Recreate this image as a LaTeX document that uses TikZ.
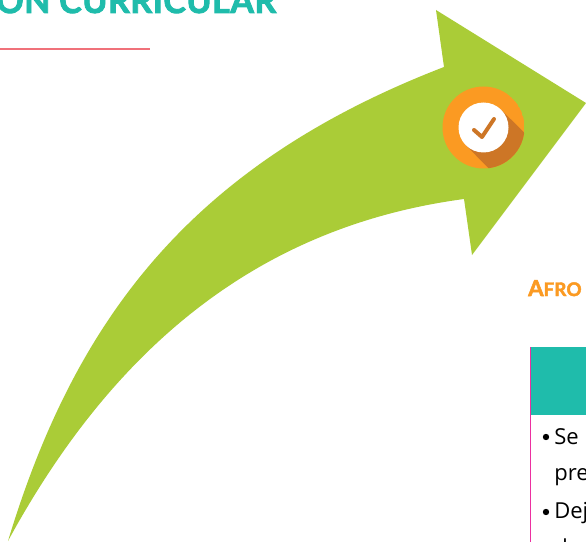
\documentclass[tikz,border=0pt]{standalone}
\usepackage{fontspec}
\setmainfont{Open Sans}
\newfontfamily\headfont[FakeBold=2.5,LetterSpace=1.5]{Lato Bold}
\definecolor{teal1}{HTML}{1FBCAB}
\definecolor{lime1}{HTML}{AACC37}
\definecolor{orange1}{HTML}{FB9A22}
\definecolor{shade1}{HTML}{CD7626}
\definecolor{pink1}{HTML}{EC2FA0}
\definecolor{red1}{HTML}{F0717A}
\tikzset{
  px/.style={x=0.75pt,y=-0.75pt},
  lbl/.style={inner sep=0pt,anchor=base west},
  bodytxt/.style={lbl,font=\fontsize{16.5}{16.5}\selectfont,text=black},
  bulletdot/.style={circle,fill=black,minimum size=4.8pt,inner sep=0pt},
}
\begin{document}
\begin{tikzpicture}[px]
\useasboundingbox (0,0) rectangle (586,542);
\clip (0,0) rectangle (586,542);
\fill[white] (0,0) rectangle (586,542);
% title
\node[lbl,font=\headfont\fontsize{25.5}{26}\selectfont,text=teal1] (title) at (-4,13) {ON CURRICULAR};
\coordinate (ruleA) at (0,49); \coordinate (ruleB) at (150,49);
\draw[red1,line width=0.8pt] (ruleA) -- (ruleB);
% arrow
\fill[lime1] (8,541) .. controls (75,320) and (190,165) .. (444,67)
  -- (436,10) -- (586,103) -- (472,255) -- (464,199)
  .. controls (270,225) and (120,335) .. (8,541) -- cycle;
% badge
\begin{scope}
\clip (483.5,127.5) circle (41);
\fill[orange1] (483.5,127.5) circle (41);
\fill[shade1] (465.8,145.2) -- (501.2,109.8) -- (560,168) -- (524,204) -- cycle;
\end{scope}
\node[circle,fill=white,minimum size=37.5pt,inner sep=0pt] (chk) at (483.5,127.5) {};
\draw[shade1,line width=3pt,line cap=round,line join=round] (474,130) -- (482,137) -- (494,119);
% lower text
\node[lbl,font=\headfont\fontsize{16.5}{16.5}\selectfont,text=orange1] (afro) at (528,296)
  {A\fontsize{14}{14}\selectfont FRO};
\fill[teal1] (531,347) rectangle (586,415);
\draw[pink1,line width=1pt] (530.5,347) -- (530.5,542);
\node[bulletdot] (b1) at (546,437) {};
\node[bulletdot] (b2) at (546,512) {};
\node[bodytxt] (t1) at (554,444) {Se};
\node[bodytxt] (t2) at (554,480) {pre};
\node[bodytxt] (t3) at (554,518) {Dej};
\node[bodytxt] (t4) at (554,555) {d};
\end{tikzpicture}
\end{document}
